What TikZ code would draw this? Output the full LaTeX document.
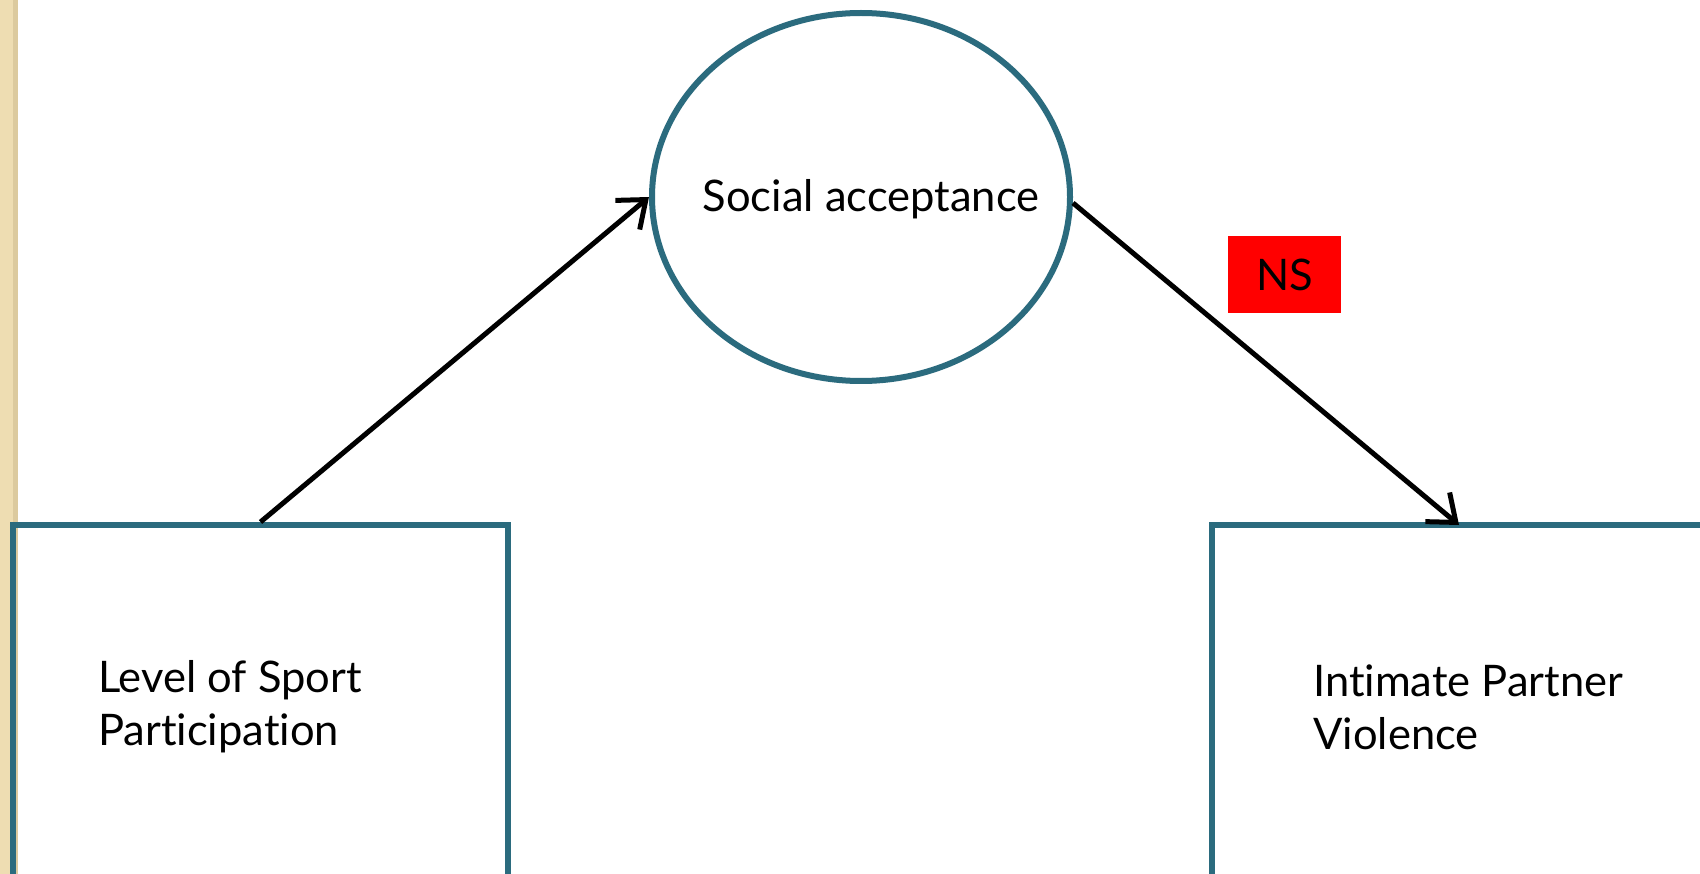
\documentclass[tikz,border=0pt]{standalone}
\usepackage{fontspec}
\setmainfont[Ligatures=NoCommon]{Lato}
\usetikzlibrary{shapes.geometric,arrows.meta}
\definecolor{teal}{HTML}{2B6B7E}
\definecolor{strip}{HTML}{EEDDB2}
\definecolor{stripdark}{HTML}{DCCA9E}
\tikzset{
  frame/.style={draw=teal, line width=6pt, inner sep=0pt},
  lbl/.style={font=\fontsize{43.5}{53}\selectfont, align=left, anchor=west, inner sep=0pt},
  link/.style={draw=black, line width=5pt, -{Straight Barb[length=24pt,width=38pt,line width=5pt]}},
}
\begin{document}
\begin{tikzpicture}[x=1pt,y=-1pt]
\useasboundingbox (0,0) rectangle (1700,874);
\fill[white] (0,0) rectangle (1700,874);
\fill[strip] (0,0) rectangle (18,874);
\fill[stripdark] (13,0) rectangle (18,874);
\node[frame, minimum width=495pt, minimum height=352pt] (L) at (260.5,701) {};
\node[frame, minimum width=510pt, minimum height=352pt] (R) at (1467,701) {};
\coordinate (Rtop) at (1459,525);
\node[frame, ellipse, minimum width=418pt, minimum height=368pt] (E) at (861,197) {};
\node[lbl] (Ltext) at (98,707) {Level of Sport\\Participation};
\node[lbl] (Rtext) at (1313,707) {Intimate Partner\\Violence};
\node[lbl, anchor=center] (Etext) at (871,199) {Social acceptance};
\node[fill=red, minimum width=113pt, minimum height=77pt, inner sep=0pt, font=\fontsize{43.5}{48}\selectfont] (NS) at (1284.5,275) {NS};
\draw[link] (L.north) -- (E.west);
\draw[link] ([yshift=-6pt]E.east) -- (Rtop);
\end{tikzpicture}
\end{document}
